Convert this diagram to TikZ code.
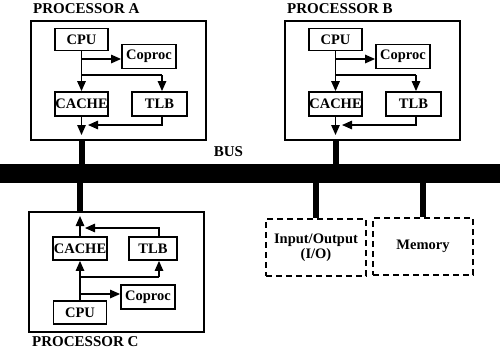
\documentclass[tikz,border=0pt]{standalone}
\usepackage{fontspec}
\setmainfont{Liberation Serif}
\usetikzlibrary{arrows.meta,calc}
\tikzset{
 outerbox/.style={draw, line width=1.8pt, inner sep=0pt},
 unitbox/.style={draw, line width=1.8pt, inner sep=0pt, font=\bfseries\fontsize{14.5}{16}\selectfont},
 dashbox/.style={draw, line width=1.8pt, dash pattern=on 6pt off 4pt, align=center, inner sep=0pt, font=\bfseries\fontsize{14.5}{15}\selectfont},
 flow/.style={line width=1.3pt, -{Triangle[length=10pt,width=8.5pt]}},
 plain/.style={line width=1.3pt},
 busline/.style={line width=6pt},
 lab/.style={font=\bfseries\fontsize{15}{16}\selectfont, inner sep=0pt},
}
\newcommand\topproc[2]{%
\begin{scope}[xshift=#2]
\node[outerbox, minimum width=175, minimum height=119] (#1o) at (118.5,80.5) {};
\node[unitbox, minimum width=53, minimum height=22] (#1cpu) at (81.5,39.5) {CPU};
\node[unitbox, minimum width=54, minimum height=24] (#1cop) at (149,56.5) {Coproc};
\node[unitbox, minimum width=53, minimum height=24] (#1cache) at (81.5,104) {CACHE};
\node[unitbox, minimum width=55, minimum height=24] (#1tlb) at (159.5,104) {TLB};
\coordinate (#1b1) at (81.5,59);
\coordinate (#1b2) at (81.5,75);
\coordinate (#1t) at (162,75);
\coordinate (#1out) at (81.5,135);
\coordinate (#1tin) at (88,125);
\end{scope}
\draw[plain] (#1cpu.south) -- (#1b2);
\draw[flow] (#1b2) -- (#1cache.north);
\draw[flow] (#1b1) -- (#1b1 -| #1cop.west);
\draw[plain] (#1b2) -- (#1t);
\draw[flow] (#1t) -- (#1t |- #1tlb.north);
\draw[flow] (#1cache.south) -- (#1out);
\draw[flow] (#1t |- #1tlb.south) |- (#1tin);
\draw[busline] (#1out |- #1o.south) -- (#1out |- bus.north);
}
\begin{document}
\begin{tikzpicture}[x=1pt,y=-1pt]
\useasboundingbox (0,0) rectangle (500,349);
\node[fill=black, inner sep=0pt, minimum width=500, minimum height=19, anchor=north west] (bus) at (0,164) {};
\node[lab] (buslab) at (228.5,152) {BUS};
\node[lab, anchor=west] (labA) at (33,8.5) {PROCESSOR A};
\node[lab, anchor=west] (labB) at (287,8.5) {PROCESSOR B};
\node[lab, anchor=west] (labC) at (32,342) {PROCESSOR C};
\topproc{A}{0}
\topproc{B}{254}
% Processor C
\node[outerbox, minimum width=175, minimum height=120] (Co) at (116.5,272) {};
\node[unitbox, minimum width=54, minimum height=23] (Ccache) at (80,248.5) {CACHE};
\node[unitbox, minimum width=48, minimum height=23] (Ctlb) at (153,248.5) {TLB};
\node[unitbox, minimum width=54, minimum height=24] (Ccop) at (148,297) {Coproc};
\node[unitbox, minimum width=53, minimum height=23] (Ccpu) at (80,312.5) {CPU};
\coordinate (Cb1) at (80,294);
\coordinate (Cb2) at (80,277);
\coordinate (Ct) at (159,277);
\coordinate (Cout) at (80,216);
\coordinate (Ctin) at (85,228);
\draw[plain] (Ccpu.north) -- (Cb2);
\draw[flow] (Cb2) -- (Ccache.south);
\draw[flow] (Cb1) -- (Cb1 -| Ccop.west);
\draw[plain] (Cb2) -- (Ct);
\draw[flow] (Ct) -- (Ct |- Ctlb.south);
\draw[flow] (Ccache.north) -- (Cout);
\draw[flow] (Ct |- Ctlb.north) |- (Ctin);
\draw[busline] (Cout |- bus.south) -- (Cout |- Co.north);
% I/O and memory
\node[dashbox, minimum width=100, minimum height=57] (io) at (316,247.5) {Input/Output\\(I/O)};
\node[dashbox, minimum width=100, minimum height=57] (mem) at (423,246.5) {Memory};
\draw[busline] (bus.south -| io.north) -- (io.north);
\draw[busline] (bus.south -| mem.north) -- (mem.north);
\end{tikzpicture}
\end{document}
